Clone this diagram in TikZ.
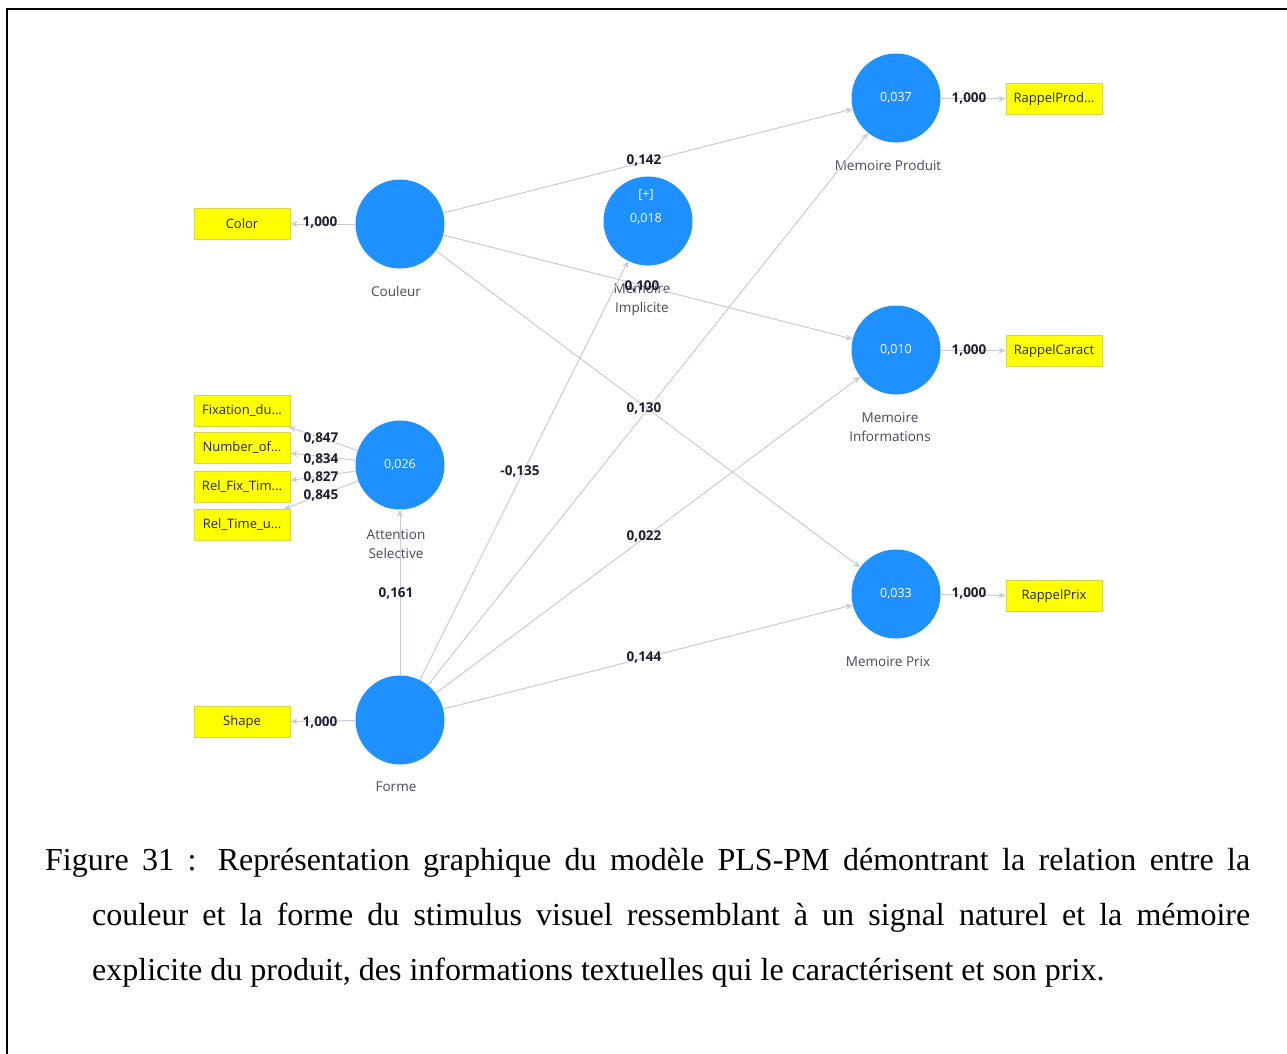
\documentclass[tikz,border=0pt]{standalone}
\usepackage{fontspec}
\setmainfont{Liberation Serif}
\newfontfamily\uifont{Open Sans}
\usetikzlibrary{arrows.meta}
\definecolor{lvblue}{RGB}{30,144,255}
\definecolor{indyel}{RGB}{255,255,0}
\definecolor{indbord}{RGB}{214,214,70}
\definecolor{edgegray}{RGB}{200,204,218}
\definecolor{namegray}{RGB}{72,72,92}
\definecolor{numdark}{RGB}{30,30,50}
\begin{document}
\begin{tikzpicture}[x=1pt,y=-1pt,
  lvnode/.style={circle, fill=lvblue, minimum size=89pt, inner sep=0pt, text=white, font=\uifont\fontsize{12.5}{14}\selectfont},
  intext/.style={text=white, font=\uifont\fontsize{12.5}{14}\selectfont, inner sep=0pt},
  indnode/.style={rectangle, fill=indyel, draw=indbord, line width=1pt, minimum width=96pt, minimum height=31pt, inner sep=0pt, text=black!85, font=\uifont\fontsize{13}{15}\selectfont},
  conn/.style={draw=edgegray, line width=1pt, -{Stealth[length=7pt,width=6pt]}},
  lvname/.style={text=namegray, align=center, inner sep=0pt, font=\uifont\fontsize{13.5}{19}\selectfont},
  elab/.style={text=numdark, inner sep=0pt, font=\uifont\bfseries\fontsize{13.5}{15}\selectfont}
]
\useasboundingbox (0,0) rectangle (1287,1053);
\fill[white] (0,0) rectangle (1287,1053);
% frame
\draw[line width=2.2pt, line cap=rect] (7,1060) -- (7,9) -- (1295,9);

% latent variables
\node[lvnode] (cou) at (400,224) {};
\node[lvnode] (mp) at (896,98) {0,037};
\node[lvnode] (mi) at (648,221) {};
\node[intext] (mit1) at (646,195) {[+]};
\node[intext] (mit2) at (646,219) {0,018};
\node[lvnode] (minf) at (896,350) {0,010};
\node[lvnode] (mpx) at (896,594) {0,033};
\node[lvnode] (as) at (400,465) {0,026};
\node[lvnode] (for) at (400,720) {};

% indicators
\node[indnode] (color) at (242,224) {Color};
\node[indnode] (shape) at (242,722) {Shape};
\node[indnode] (rprod) at (1054,99) {RappelProd...};
\node[indnode] (rcar) at (1054,351) {RappelCaract};
\node[indnode] (rprix) at (1054,596) {RappelPrix};
\node[indnode] (fix) at (242,411) {Fixation\_du...};
\node[indnode] (nbr) at (242,448) {Number\_of...};
\node[indnode] (rfix) at (242,487) {Rel\_Fix\_Tim...};
\node[indnode] (rtime) at (242,525) {Rel\_Time\_u...};

% names
\node[lvname] (ncou) at (396,291) {Couleur};
\node[lvname] (nmp) at (888,165) {Memoire Produit};
\node[lvname] (nmi) at (642,300) {Memoire\\Implicite};
\node[lvname] (nminf) at (890,427) {Memoire\\Informations};
\node[lvname] (nmpx) at (888,662) {Memoire Prix};
\node[lvname] (nas) at (396,544) {Attention\\Selective};
\node[lvname] (nfor) at (396,787) {Forme};

% structural paths
\draw[conn] (cou) -- (mp);
\draw[conn] (cou) -- (minf);
\draw[conn] (cou) -- (mpx);
\draw[conn] (for) -- (as);
\draw[conn] (for) -- (mi);
\draw[conn] (for) -- (mp);
\draw[conn] (for) -- (minf);
\draw[conn] (for) -- (mpx);

% measurement
\draw[conn] (cou) -- (color);
\draw[conn] (for) -- (shape);
\draw[conn] (mp) -- (rprod);
\draw[conn] (minf) -- (rcar);
\draw[conn] (mpx) -- (rprix);
\draw[conn] (as) -- (fix);
\draw[conn] (as) -- (nbr);
\draw[conn] (as) -- (rfix);
\draw[conn] (as) -- (rtime);

% edge labels
\node[elab] (l1) at (644,160) {0,142};
\node[elab] (l2) at (642,286) {0,100};
\node[elab] (l3) at (644,408) {0,130};
\node[elab] (l4) at (520,471) {-0,135};
\node[elab] (l5) at (644,536) {0,022};
\node[elab] (l6) at (644,657) {0,144};
\node[elab] (l7) at (396,593) {0,161};
\node[elab] (l8) at (320,222) {1,000};
\node[elab] (l9) at (320,722) {1,000};
\node[elab] (l10) at (969,98) {1,000};
\node[elab] (l11) at (969,350) {1,000};
\node[elab] (l12) at (969,593) {1,000};
\node[elab] (l13) at (321,438) {0,847};
\node[elab] (l14) at (321,459) {0,834};
\node[elab] (l15) at (321,477) {0,827};
\node[elab] (l16) at (321,495) {0,845};

% caption
\node[anchor=base west, inner sep=0pt] (cap) at (45,870)
 {\parbox[t]{1205pt}{\fontsize{32}{55}\selectfont\noindent\hangindent=47pt\hangafter=1
  Figure 31 : Représentation graphique du modèle PLS-PM démontrant la relation entre la\linebreak
  couleur et la forme du stimulus visuel ressemblant à un signal naturel et la mémoire\linebreak
  explicite du produit, des informations textuelles qui le caractérisent et son prix.\par}};
\end{tikzpicture}
\end{document}
